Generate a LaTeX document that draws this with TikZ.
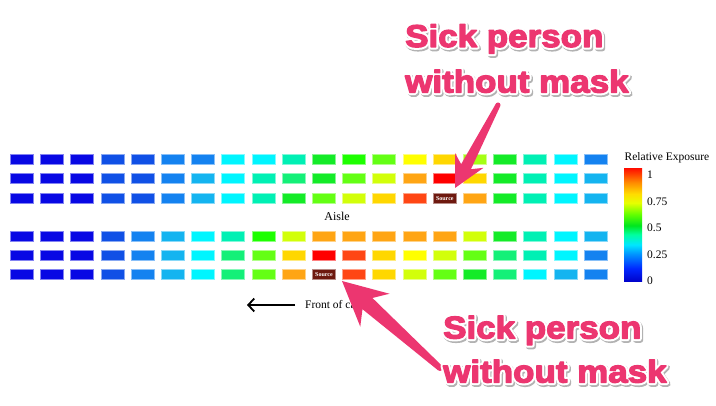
\documentclass[tikz,border=0pt]{standalone}
\usepackage{fontspec}
\setmainfont{Liberation Serif}
\newfontfamily\calloutfont[FakeStretch=1.11,FakeBold=4]{Liberation Sans}
\newfontfamily\calloutline[FakeStretch=1.11,FakeBold=17]{Liberation Sans}
\usetikzlibrary{arrows.meta,calc}

\definecolor{DB}{RGB}{8,8,228}
\definecolor{BA}{RGB}{16,80,230}
\definecolor{BB}{RGB}{20,130,240}
\definecolor{BC}{RGB}{20,180,240}
\definecolor{CY}{RGB}{0,245,255}
\definecolor{AQ}{RGB}{0,240,180}
\definecolor{SG}{RGB}{20,240,120}
\definecolor{GR}{RGB}{20,235,40}
\definecolor{GG}{RGB}{30,255,0}
\definecolor{LG}{RGB}{100,255,20}
\definecolor{LY}{RGB}{165,255,20}
\definecolor{YG}{RGB}{210,255,10}
\definecolor{YE}{RGB}{255,255,0}
\definecolor{GO}{RGB}{255,215,0}
\definecolor{OR}{RGB}{255,165,20}
\definecolor{RO}{RGB}{255,70,20}
\definecolor{RE}{RGB}{255,0,0}
\definecolor{SRC}{RGB}{110,25,15}
\definecolor{pinkc}{RGB}{236,54,112}

\definecolor{J0}{RGB}{0,0,200}
\definecolor{J1}{RGB}{0,40,255}
\definecolor{J2}{RGB}{0,150,255}
\definecolor{J3}{RGB}{0,230,255}
\definecolor{J4}{RGB}{0,255,160}
\definecolor{J5}{RGB}{0,230,30}
\definecolor{J6}{RGB}{100,255,0}
\definecolor{J7}{RGB}{230,255,0}
\definecolor{J8}{RGB}{255,220,0}
\definecolor{J9}{RGB}{255,140,0}
\definecolor{J10}{RGB}{255,20,0}
\pgfdeclareverticalshading{jetbar}{100bp}{color(0bp)=(J0); color(25bp)=(J0); color(31bp)=(J1); color(37.5bp)=(J2); color(41.5bp)=(J3); color(46bp)=(J4); color(50bp)=(J5); color(55bp)=(J6); color(60bp)=(J7); color(64bp)=(J8); color(69bp)=(J9); color(75bp)=(J10); color(100bp)=(J10)}

\newcommand\cellrow[3]{%
  \foreach \c [count=\i] in {#3} {%
    \node[cell, fill=\c, draw=\c!50] (r#1c\i) at ({22+30.2*(\i-1)}, #2) {};
  }%
}
% tail, tip, head length, barb half width, neck distance, neck half width, tail half width
\newcommand\skarrow[7]{%
  \coordinate (sk-n) at ($(#2)!#5!(#1)$);
  \coordinate (sk-b) at ($(#2)!#3!(#1)$);
  \fill[pinkc] ($(#1)!#7!90:(#2)$) -- ($(sk-n)!#6!90:(#2)$) -- ($(sk-b)!#4!90:(#2)$) -- (#2)
    -- ($(sk-b)!#4!-90:(#2)$) -- ($(sk-n)!#6!-90:(#2)$) -- ($(#1)!#7!-90:(#2)$) -- cycle;
  \fill[pinkc] (#1) circle[radius=#7];
}

\begin{document}
\begin{tikzpicture}[x=1pt,y=-1pt,
  cell/.style={minimum width=23pt, minimum height=10pt, inner sep=0pt, line width=1pt},
  serifsm/.style={font=\fontsize{11.5}{13}\selectfont, inner sep=0pt},
  callout/.style={anchor=base west, inner sep=0pt, line join=round, font={\calloutfont\fontsize{31.5}{36}\selectfont\bfseries}, text=pinkc},
  outline/.style={anchor=base west, inner sep=0pt, line join=round, font={\calloutline\fontsize{31.5}{36}\selectfont\bfseries}, text=white},
  shadowtext/.style={outline, text=black!30}]
\useasboundingbox[fill=white] (0,0) rectangle (716,406);

% seat grid
\cellrow{1}{159.7}{DB,DB,DB,BA,BA,BB,BB,CY,CY,AQ,GR,GG,LG,YE,GO,LY,GR,AQ,CY,BB}
\cellrow{2}{178.9}{DB,DB,DB,BA,BA,BB,BC,CY,AQ,SG,GR,LG,YG,OR,RE,GO,GR,AQ,CY,BC}
\cellrow{3}{198.1}{DB,DB,DB,BA,BA,BB,BC,CY,AQ,GR,LG,YG,GO,RO,SRC,OR,GR,AQ,CY,BC}
\cellrow{4}{236.5}{DB,DB,DB,BA,BB,BC,CY,AQ,GG,YG,OR,OR,OR,OR,OR,YG,GR,AQ,CY,BC}
\cellrow{5}{255.7}{DB,DB,DB,BA,BB,BC,CY,SG,LG,GO,RE,RO,GO,YE,YG,LG,SG,AQ,CY,BB}
\cellrow{6}{274.9}{DB,DB,DB,BA,BB,BC,CY,SG,LG,OR,SRC,RO,GO,YG,LG,GR,SG,CY,BC,BB}

\node[cell, fill=SRC, draw=SRC!50, text=white, font=\fontsize{6}{6}\selectfont\bfseries] (srcA) at (r3c15) {Source};
\node[cell, fill=SRC, draw=SRC!50, text=white, font=\fontsize{6}{6}\selectfont\bfseries] (srcB) at (r6c11) {Source};

\node[font=\fontsize{12}{14}\selectfont, anchor=base, inner sep=0pt] (aisle) at (337,221) {Aisle};

% front arrow and label
\coordinate (fa-tail) at (295,305);
\coordinate (fa-tip) at (247,305);
\draw[line width=1.8pt, -{Straight Barb[length=6pt,width=13pt,line width=1.8pt]}] (fa-tail) -- (fa-tip);
\node[serifsm, anchor=base west] (front) at (305,309) {Front of cabin};

% colour bar
\node[shading=jetbar, minimum width=18pt, minimum height=113pt, inner sep=0pt] (cbar) at (633,225.5) {};
\node[serifsm, anchor=base] (cbtitle) at (667,161) {Relative Exposure};
\node[serifsm, anchor=west] (t100) at (647,175) {1};
\node[serifsm, anchor=west] (t075) at (647,201.5) {0.75};
\node[serifsm, anchor=west] (t050) at (647,228) {0.5};
\node[serifsm, anchor=west] (t025) at (647,254.5) {0.25};
\node[serifsm, anchor=west] (t000) at (647,281) {0};

% pink annotation arrows
\coordinate (ta-tail) at (498,105);
\coordinate (ta-tip) at (455,188);
\skarrow{ta-tail}{ta-tip}{31pt}{16pt}{24pt}{5.5pt}{2.5pt}
\coordinate (ba-tail) at (440,368);
\coordinate (ba-tip) at (342,281);
\skarrow{ba-tail}{ba-tip}{44pt}{22pt}{34pt}{7.5pt}{3pt}

% callout texts: shadow, white outline, pink fill
\node[shadowtext] (c1s) at (406.3,48.6) {Sick person};
\node[shadowtext] (c2s) at (406.3,94.1) {without mask};
\node[outline] (c1o) at (405,47) {Sick person};
\node[outline] (c2o) at (405,92.5) {without mask};
\node[callout] (c1) at (405,47) {Sick person};
\node[callout] (c2) at (405,92.5) {without mask};
\node[shadowtext] (c3s) at (444.3,340.1) {Sick person};
\node[shadowtext] (c4s) at (444.3,384.1) {without mask};
\node[outline] (c3o) at (443,338.5) {Sick person};
\node[outline] (c4o) at (443,382.5) {without mask};
\node[callout] (c3) at (443,338.5) {Sick person};
\node[callout] (c4) at (443,382.5) {without mask};
\end{tikzpicture}
\end{document}
